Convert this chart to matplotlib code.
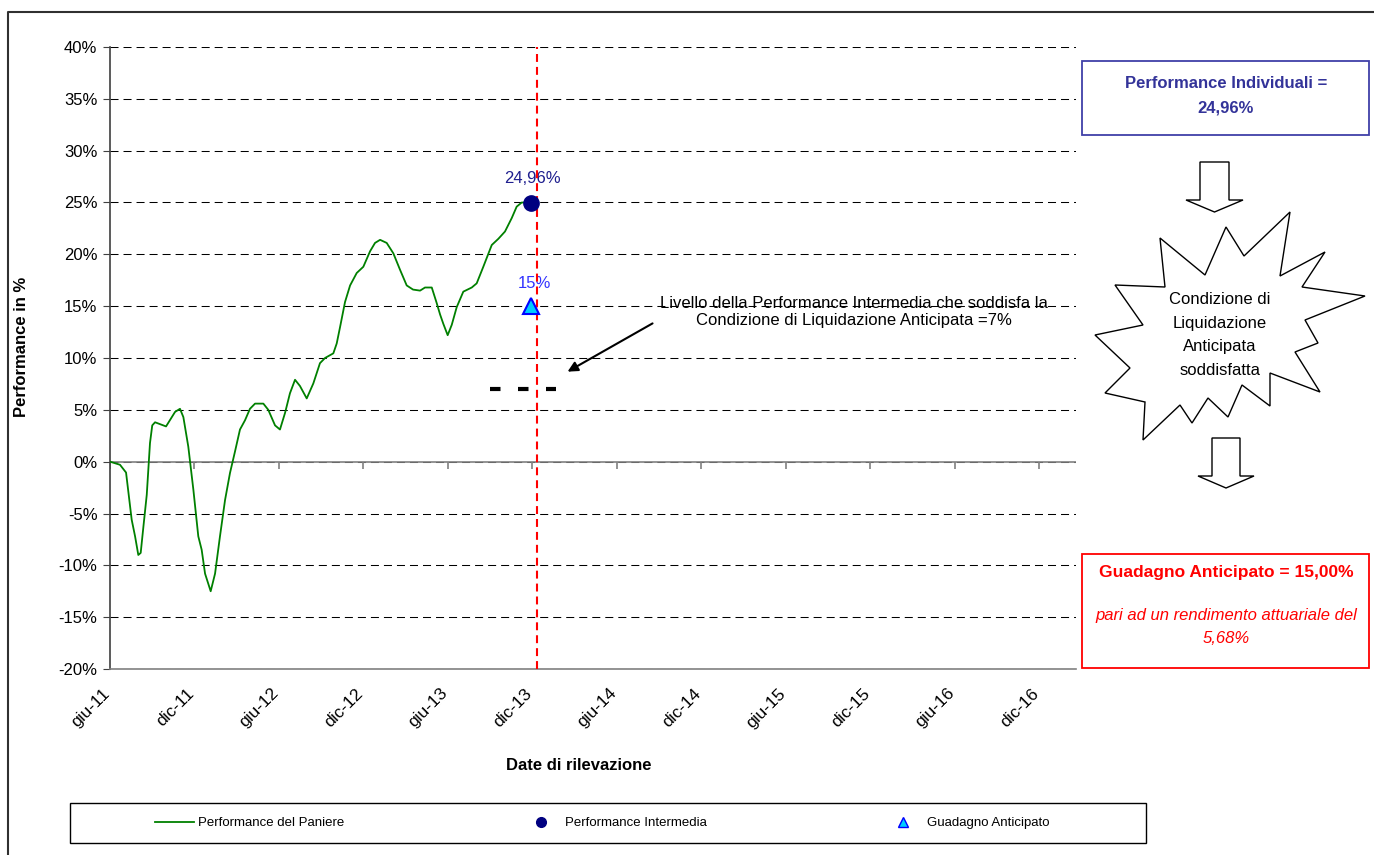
import matplotlib.pyplot as plt
import matplotlib.transforms as mtransforms
from matplotlib.patches import Rectangle, Polygon
from matplotlib.lines import Line2D

plt.rcParams['font.family'] = ['Liberation Sans', 'DejaVu Sans']

# mesi trascorsi dalla data iniziale (giugno 2011) e performance del paniere in %
mesi = [0.0, 0.71, 1.14, 1.54, 1.78, 2.01, 2.18, 2.37, 2.61, 2.84, 3.0, 3.2,
        3.98, 4.62, 4.97, 5.21, 5.56, 5.92, 6.27, 6.51, 6.75, 7.15, 7.46, 7.81,
        8.17, 8.52, 8.88, 9.23, 9.59, 9.94, 10.3, 10.89, 11.24, 11.72, 12.07,
        12.43, 12.78, 13.14, 13.49, 13.97, 14.44, 14.91, 15.27, 15.86, 16.1,
        16.34, 16.69, 17.05, 17.52, 17.99, 18.47, 18.82, 19.18, 19.65, 20.12,
        20.6, 21.07, 21.52, 22.02, 22.37, 22.85, 23.2, 23.44, 23.67, 23.98,
        24.27, 24.62, 25.09, 25.69, 26.04, 26.51, 27.11, 27.58, 28.05, 28.53,
        28.88, 29.24, 29.88]
performance = [0.0, -0.3, -1.05, -5.6, -7.2, -9.0, -8.8, -6.3, -3.2, 1.8, 3.5, 3.8,
               3.4, 4.8, 5.1, 4.3, 1.45, -2.7, -7.2, -8.5, -10.8, -12.5, -10.8, -7.2,
               -3.7, -1.1, 1.0, 3.1, 4.0, 5.1, 5.6, 5.6, 5.0, 3.5, 3.1,
               4.7, 6.6, 7.9, 7.3, 6.1, 7.55, 9.5, 10.0, 10.45, 11.4,
               13.0, 15.4, 17.0, 18.2, 18.8, 20.3, 21.1, 21.4, 21.1, 20.1,
               18.5, 17.0, 16.6, 16.5, 16.8, 16.8, 15.3, 14.2, 13.3, 12.2,
               13.2, 14.9, 16.4, 16.8, 17.2, 18.8, 20.9, 21.5, 22.2, 23.5,
               24.6, 25.0, 24.96]

date_tick = [0, 6, 12, 18, 24, 30, 36, 42, 48, 54, 60, 66]
date_label = ['giu-11', 'dic-11', 'giu-12', 'dic-12', 'giu-13', 'dic-13',
              'giu-14', 'dic-14', 'giu-15', 'dic-15', 'giu-16', 'dic-16']

mese_rilevazione = 29.88
perf_intermedia = 24.96
guadagno = 15.0
mese_limite = 30.35
soglia = 7.0
soglia_mesi = [26.99, 31.68]

W, H = 1374, 855
fig = plt.figure(figsize=(W / 100, H / 100), dpi=100)

# grafico principale
ax = fig.add_axes([110 / W, (H - 669) / H, 966 / W, 622 / H])
ax.set_xlim(0, 68.6)
ax.set_ylim(-20, 40)
ax.set_yticks(range(-20, 41, 5))
ax.set_yticklabels([f'{v}%' for v in range(-20, 41, 5)], fontsize=12)
ax.set_xticks(date_tick)
ax.set_xticklabels(date_label, fontsize=12.5, rotation=45, ha='right', va='top',
                   rotation_mode='anchor')
ax.tick_params(axis='x', length=0, pad=12)
ax.tick_params(axis='y', direction='out', length=5, color='#404040', pad=4)
shift = mtransforms.ScaledTranslation(-8 / 100, 0, fig.dpi_scale_trans)
for lab in ax.get_xticklabels():
    lab.set_transform(lab.get_transform() + shift)
ax.yaxis.grid(True, color='black', lw=0.75, dashes=(7.7, 4.8))
ax.set_axisbelow(True)
for s in ('top', 'right'):
    ax.spines[s].set_visible(False)
ax.spines['left'].set_color('#404040')
ax.spines['left'].set_linewidth(1.2)
ax.spines['bottom'].set_color('#808080')
ax.spines['bottom'].set_linewidth(1.2)

# asse dello zero con le tacche delle date
ax.axhline(0, color='#808080', lw=1.2, zorder=2)
ax.plot(date_tick, [0] * len(date_tick), ls='none', marker=3, ms=5,
        color='#808080', mew=1.2, zorder=2)

ax.plot(mesi, performance, color='#008000', lw=1.3, zorder=3)
ax.axvline(mese_limite, color='#ff0000', lw=1.5, dashes=(3.8, 2.4), zorder=4)
ax.plot(soglia_mesi, [soglia, soglia], color='black', lw=3,
        dashes=(2.52, 4.2), solid_capstyle='butt', dash_capstyle='butt', zorder=4)

ax.plot([mese_rilevazione], [perf_intermedia], 'o', color='#000080', ms=11, zorder=5)
ax.plot([mese_rilevazione], [guadagno], '^', mfc='#00ccff', mec='#0000ff',
        mew=1.5, ms=12, zorder=5)
ax.annotate(f'{perf_intermedia:.2f}%'.replace('.', ','), (mese_rilevazione, perf_intermedia),
            xytext=(1.5, 17.5), textcoords='offset points', ha='center', va='center',
            fontsize=12, color='#1f1f8f')
ax.annotate(f'{guadagno:.0f}%', (mese_rilevazione, guadagno),
            xytext=(2.5, 16), textcoords='offset points', ha='center', va='center',
            fontsize=12, color='#3333ff')

ax.annotate('', xy=(32.32, 8.55), xytext=(38.7, 13.47),
            arrowprops=dict(arrowstyle='-|>', color='black', lw=1.5, mutation_scale=15))
ax.text(52.8, 14.45, 'Livello della Performance Intermedia che soddisfa la\n'
        'Condizione di Liquidazione Anticipata =7%', ha='center', va='center',
        fontsize=12, linespacing=1.2)

fig.text(22 / W, 1 - 347 / H, 'Performance in %', rotation=90, fontsize=12,
         fontweight='bold', ha='center', va='center')
fig.text(579 / W, 1 - 765 / H, 'Date di rilevazione', fontsize=12,
         fontweight='bold', ha='center', va='center')

# riquadri, frecce e stella sulla destra
ov = fig.add_axes([0, 0, 1, 1], facecolor='none')
ov.set_xlim(0, W)
ov.set_ylim(H, 0)
ov.axis('off')

ov.plot([8, 8, W], [H, 12, 12], color='#303030', lw=1.5)

ov.add_patch(Rectangle((1082, 61), 287, 74, fill=False, ec='#4040a8', lw=1.3))
ov.text(1226, 96, 'Performance Individuali =\n24,96%', ha='center', va='center',
        fontsize=12, fontweight='bold', color='#333399', linespacing=1.75)

ov.add_patch(Polygon([(1200, 162), (1229, 162), (1229, 200), (1243, 200),
                      (1214.5, 212), (1186, 200), (1200, 200)],
                     closed=True, fc='white', ec='black', lw=1))
ov.add_patch(Polygon([(1212, 438), (1240, 438), (1240, 476), (1254, 476),
                      (1226, 488), (1198, 476), (1212, 476)],
                     closed=True, fc='white', ec='black', lw=1))

star = [(1160, 238), (1205, 275), (1226, 227), (1244, 256), (1290, 212),
        (1280, 276), (1325, 252), (1302, 287), (1365, 296), (1305, 320),
        (1318, 343), (1295, 352), (1320, 392), (1270, 373), (1270, 406),
        (1242, 385), (1228, 417), (1208, 398), (1192, 423), (1180, 405),
        (1143, 440), (1145, 402), (1105, 393), (1130, 368), (1095, 335),
        (1143, 325), (1115, 285), (1165, 287)]
ov.add_patch(Polygon(star, closed=True, fc='white', ec='black', lw=1))
ov.text(1220, 335, 'Condizione di\nLiquidazione\nAnticipata\nsoddisfatta',
        ha='center', va='center', fontsize=12, linespacing=1.7)

ov.add_patch(Rectangle((1082, 554), 287, 114, fill=False, ec='#ff0000', lw=1.3))
ov.text(1226, 572, 'Guadagno Anticipato = 15,00%', ha='center', va='center',
        fontsize=12.5, fontweight='bold', color='#ff0000')
ov.text(1226, 627, 'pari ad un rendimento attuariale del\n5,68%', ha='center',
        va='center', fontsize=12, style='italic', color='#ff0000', linespacing=1.7)

# legenda
ov.add_patch(Rectangle((70, 803), 1076, 40, fill=False, ec='black', lw=1))
handles = [Line2D([], [], color='#008000', lw=1.3),
           Line2D([], [], ls='none', marker='o', color='#000080', ms=7),
           Line2D([], [], ls='none', marker='^', mfc='#00ccff', mec='#0000ff', ms=7)]
fig.legend(handles, ['Performance del Paniere', 'Performance Intermedia', 'Guadagno Anticipato'],
           loc='center', bbox_to_anchor=(602 / W, 1 - 823 / H), ncol=3, frameon=False,
           fontsize=9.5, handlelength=3, handletextpad=0.3, columnspacing=13.4)

fig.savefig('out.png', dpi=100)
